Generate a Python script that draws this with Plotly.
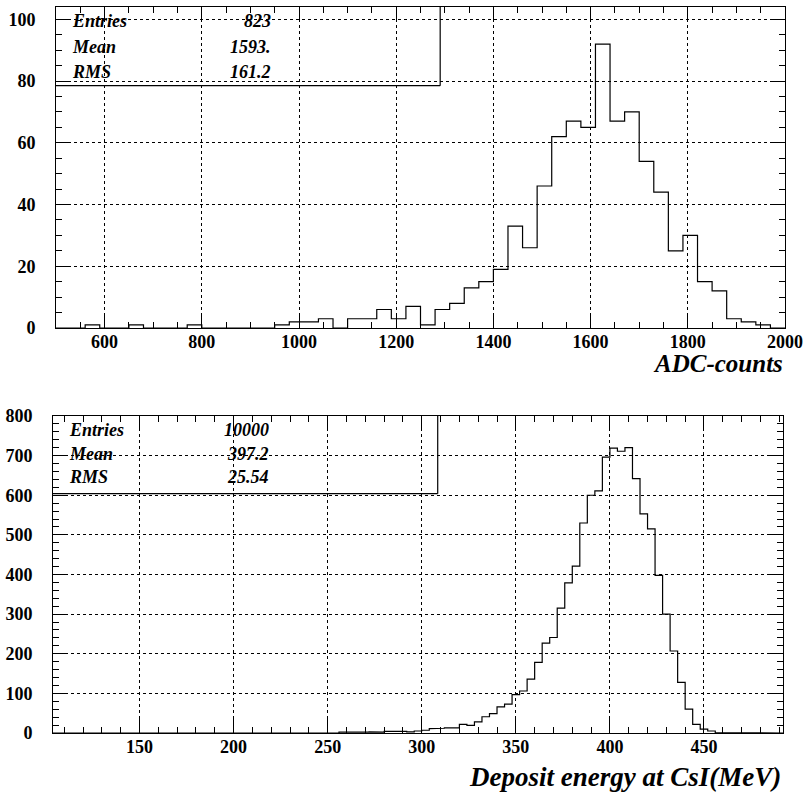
import numpy as np
import plotly.graph_objects as go

# ---- ADC spectrum: 50 bins of 30 counts from 500 to 2000 ----
adc_start = 500
adc_width = 30
adc_counts = [0, 0, 1, 0, 0, 1, 0, 0, 0, 1,
              0, 0, 0, 0, 0, 1, 2, 2, 3, 0,
              3, 3, 6, 3, 7, 1, 6, 8, 13, 15,
              19, 33, 26, 46, 62, 67, 65, 92, 67, 70,
              54, 44, 25, 30, 15, 12, 3, 2, 1, 0]
adc_stats = [("Entries", "823"), ("Mean", "1593."), ("RMS", "161.2")]

# ---- Deposited energy in CsI: 97 bins of 4 MeV from 104 to 492 ----
energy_start = 104
energy_width = 4
energy_counts = [0, 0, 0, 0, 0, 0, 0, 0, 0, 0,
                 0, 0, 0, 0, 0, 0, 0, 0, 0, 0,
                 1, 0, 0, 0, 0, 0, 0, 1, 0, 0,
                 0, 1, 0, 1, 0, 1, 1, 0, 2, 1,
                 1, 2, 3, 2, 4, 5, 4, 3, 5, 7,
                 11, 12, 13, 13, 22, 19, 28, 41, 49, 66,
                 73, 97, 106, 136, 178, 227, 241, 315, 379, 421,
                 530, 600, 611, 696, 719, 711, 720, 642, 553, 515,
                 398, 300, 207, 128, 60, 22, 10, 5, 1, 0,
                 0, 0, 0, 0, 0, 0, 0]
energy_stats = [("Entries", "10000"), ("Mean", "397.2"), ("RMS", "25.54")]

W, H = 806, 793
SERIF = "Liberation Serif"


def step_outline(start, width, counts):
    edges = start + width * np.arange(len(counts) + 1)
    xs, ys = [edges[0]], [0]
    for i, c in enumerate(counts):
        xs += [edges[i], edges[i + 1]]
        ys += [c, c]
    xs.append(edges[-1])
    ys.append(0)
    return xs, ys


fig = go.Figure()
for (start, width, counts, xa, ya) in [
    (adc_start, adc_width, adc_counts, "x", "y"),
    (energy_start, energy_width, energy_counts, "x2", "y2"),
]:
    xs, ys = step_outline(start, width, counts)
    fig.add_trace(go.Scatter(x=xs, y=ys, mode="lines", xaxis=xa, yaxis=ya,
                             line=dict(color="black", width=1.2),
                             showlegend=False, hoverinfo="skip"))

tickfont = dict(family=SERIF, size=18, color="black", weight=700)


def axis_style(dtick, minor_dtick, standoff):
    return dict(
        automargin=False,
        showline=True, linecolor="black", linewidth=1, mirror="allticks",
        ticks="inside", ticklen=14, tickwidth=1, tickcolor="black",
        dtick=dtick, tick0=0, tickfont=tickfont, ticklabelstandoff=standoff,
        showgrid=True, gridcolor="black", gridwidth=1, griddash="dot",
        zeroline=False,
        minor=dict(ticks="inside", ticklen=6, tickwidth=1, tickcolor="black",
                   dtick=minor_dtick, tick0=0, showgrid=False),
    )


layout_axes = dict(
    xaxis=dict(axis_style(200, 50, -3), range=[500, 2000],
               domain=[56 / W, 785 / W], anchor="y"),
    yaxis=dict(axis_style(20, 5, 16), range=[0, 104],
               domain=[1 - 328 / H, 1 - 7 / H], anchor="x"),
    xaxis2=dict(axis_style(50, 10, -3), range=[104, 492],
                domain=[53 / W, 783 / W], anchor="y2"),
    yaxis2=dict(axis_style(100, 20, 16), range=[0, 800],
                domain=[1 - 733 / H, 1 - 416 / H], anchor="x2"),
)

annotations = []
shapes = []
statfont = dict(family=SERIF, size=18, color="black")
for stats, xr, yr, rows in [
    (adc_stats, "x domain", "y domain", [0.956, 0.875, 0.797]),
    (energy_stats, "x2 domain", "y2 domain", [0.956, 0.880, 0.808]),
]:
    for (name, val), yy in zip(stats, rows):
        annotations.append(dict(text=f"<b><i>{name}</i></b>", xref=xr, yref=yr,
                                x=0.019, y=yy, xanchor="left", yanchor="middle",
                                showarrow=False, font=statfont))
        annotations.append(dict(text=f"<b><i>{val}</i></b>", xref=xr, yref=yr,
                                x=0.298, y=yy, xanchor="right", yanchor="middle",
                                showarrow=False, font=statfont))
    # statistics box: right and bottom borders
    shapes.append(dict(type="line", xref=xr, yref=yr, x0=0.527, x1=0.527,
                       y0=0.755, y1=1, line=dict(color="black", width=1.2)))
    shapes.append(dict(type="line", xref=xr, yref=yr, x0=0, x1=0.527,
                       y0=0.755, y1=0.755, line=dict(color="black", width=1.2)))

annotations.append(dict(text="<b><i>ADC-counts</i></b>", xref="x domain", yref="paper",
                        x=1, y=1 - 363 / H, xanchor="right", yanchor="middle",
                        showarrow=False,
                        font=dict(family=SERIF, size=25, color="black")))
annotations.append(dict(text="<b><i>Deposit energy at CsI(MeV)</i></b>",
                        xref="x2 domain", yref="paper",
                        x=1, y=1 - 777 / H, xanchor="right", yanchor="middle",
                        showarrow=False,
                        font=dict(family=SERIF, size=27, color="black")))

fig.update_layout(
    width=W, height=H,
    margin=dict(l=0, r=0, t=0, b=0),
    paper_bgcolor="white", plot_bgcolor="white",
    annotations=annotations, shapes=shapes,
    **layout_axes,
)

fig.write_html("out.html")
